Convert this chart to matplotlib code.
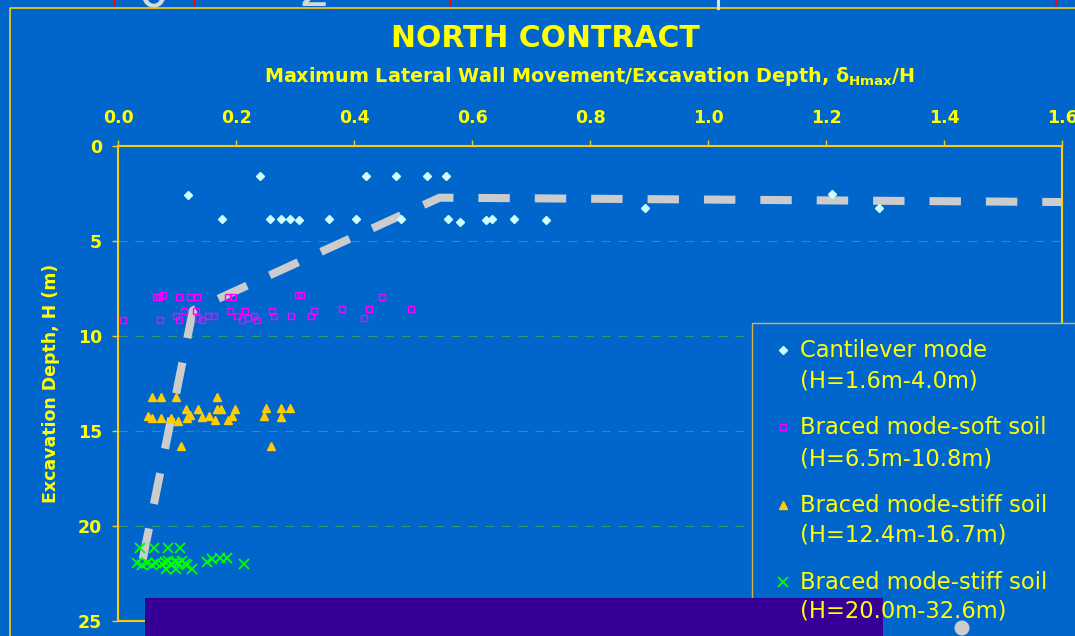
import numpy as np
import matplotlib

matplotlib.use("Agg")
import matplotlib.pyplot as plt
from matplotlib.lines import Line2D
from matplotlib.patches import Rectangle, Ellipse

# ---- data (x = delta_Hmax/H, h = excavation depth in m) ----
cant_x = [0.119, 0.240, 0.177, 0.257, 0.277, 0.292, 0.306, 0.357, 0.404, 0.420, 0.472, 0.524,
          0.556, 0.479, 0.559, 0.579, 0.624, 0.634, 0.671, 0.725, 0.894, 1.211, 1.289]
cant_h = [2.60, 1.60, 3.84, 3.84, 3.84, 3.84, 3.91, 3.84, 3.84, 1.60, 1.60, 1.60,
          1.60, 3.84, 3.84, 3.98, 3.91, 3.84, 3.84, 3.91, 3.26, 2.54, 3.26]

soft_x = [0.008, 0.064, 0.069, 0.077, 0.103, 0.122, 0.134, 0.186, 0.195, 0.305, 0.310, 0.448,
          0.072, 0.098, 0.103, 0.112, 0.132, 0.135, 0.143, 0.152, 0.163, 0.190, 0.201, 0.210,
          0.215, 0.220, 0.230, 0.236, 0.261, 0.264, 0.293, 0.327, 0.333, 0.379, 0.417, 0.425, 0.497]
soft_h = [9.17, 7.93, 7.93, 7.86, 7.93, 7.93, 7.93, 7.93, 7.93, 7.86, 7.86, 7.93,
          9.17, 8.93, 9.17, 8.67, 8.67, 9.07, 9.17, 8.93, 8.93, 8.67, 8.93, 9.17,
          8.67, 9.07, 8.93, 9.17, 8.67, 8.93, 8.93, 8.93, 8.67, 8.60, 9.07, 8.60, 8.60]

stiff_x = [0.057, 0.073, 0.098, 0.167, 0.050, 0.057, 0.073, 0.090, 0.102, 0.115, 0.117, 0.122,
           0.136, 0.142, 0.154, 0.164, 0.167, 0.174, 0.186, 0.194, 0.199, 0.107, 0.251, 0.248,
           0.277, 0.291, 0.277, 0.260]
stiff_h = [13.19, 13.19, 13.19, 13.19, 14.19, 14.33, 14.33, 14.33, 14.46, 13.86, 14.33, 14.16,
           13.86, 14.25, 14.19, 14.42, 13.86, 13.86, 14.42, 14.19, 13.86, 15.79, 13.81, 14.19,
           13.81, 13.81, 14.28, 15.79]

deep_x = [0.037, 0.061, 0.085, 0.105, 0.032, 0.040, 0.049, 0.057, 0.065, 0.074, 0.080, 0.085,
          0.091, 0.097, 0.102, 0.108, 0.113, 0.117, 0.150, 0.159, 0.173, 0.184, 0.214, 0.082,
          0.099, 0.125]
deep_h = [21.18, 21.18, 21.18, 21.18, 21.96, 22.05, 21.96, 22.05, 21.96, 22.00, 21.90, 21.85,
          22.00, 21.90, 21.95, 21.85, 22.00, 22.05, 21.88, 21.75, 21.70, 21.70, 22.00, 22.26,
          22.26, 22.28]

envelope_x = [0.042, 0.127, 0.545, 1.60]
envelope_h = [21.75, 8.65, 2.72, 2.95]

legend_lines = [
    ("Cantilever mode", "(H=1.6m-4.0m)"),
    ("Braced mode-soft soil", "(H=6.5m-10.8m)"),
    ("Braced mode-stiff soil", "(H=12.4m-16.7m)"),
    ("Braced mode-stiff soil", "(H=20.0m-32.6m)"),
]
x_ticks = [0.0, 0.2, 0.4, 0.6, 0.8, 1.0, 1.2, 1.4, 1.6]
y_ticks = [0, 5, 10, 15, 20, 25]

BLUE = "#0066CC"
YELLOW = "#FFFF00"
GOLD = "#FFCC00"

W, H = 1075, 636


def fx(x):
    return x / W


def fy(y):
    return 1 - y / H


fig = plt.figure(figsize=(W / 100, H / 100), dpi=100, facecolor=BLUE)
ax = fig.add_axes([fx(118), fy(621), (1062 - 118) / W, (621 - 146) / H], facecolor=BLUE)

styles = [
    dict(marker="D", ms=3.8, color="#CCFFFF", mec="#CCFFFF", mfc="#CCFFFF", ls="none"),
    dict(marker="s", ms=4.2, color="#FF00FF", mec="#FF00FF", mfc="none", mew=1.0, ls="none"),
    dict(marker="^", ms=6.0, color="#FFCC00", mec="#FFCC00", mfc="#FFCC00", ls="none"),
    dict(marker="x", ms=6.5, color="#00FF00", mec="#00FF00", mew=1.3, ls="none"),
]
series = [(cant_x, cant_h), (soft_x, soft_h), (stiff_x, stiff_h), (deep_x, deep_h)]

env, = ax.plot(envelope_x, envelope_h, color="#CCCCCC", lw=5.8, zorder=2,
               solid_capstyle="butt", dash_capstyle="butt")
env.set_dashes([3.9, 3.1])
for (xs, hs), st in zip(series, styles):
    ax.plot(xs, hs, zorder=3, **st)

ax.set_xlim(0, 1.6)
ax.set_ylim(25, 0)
ax.xaxis.tick_top()
ax.xaxis.set_label_position("top")
ax.set_xticks(x_ticks)
ax.set_xticklabels([f"{v:.1f}" for v in x_ticks])
ax.set_yticks(y_ticks)
ax.tick_params(axis="both", colors=GOLD, labelcolor=YELLOW, length=4.3, width=1,
               direction="out", labelsize=12.5)
ax.tick_params(axis="x", pad=9.5)
ax.tick_params(axis="y", pad=7.2)
for lab in ax.get_xticklabels() + ax.get_yticklabels():
    lab.set_fontweight("bold")
for sp in ax.spines.values():
    sp.set_color(GOLD)
    sp.set_linewidth(1.5)
ax.yaxis.grid(True, color="#339966", lw=0.8, ls=(0, (8, 7)))
ax.set_axisbelow(True)

ax.set_xlabel(r"Maximum Lateral Wall Movement/Excavation Depth, $\mathbf{\delta_{Hmax}}$/H",
              color=YELLOW, fontsize=13.8, fontweight="bold", labelpad=19)
ax.set_ylabel("Excavation Depth, H (m)", color=YELLOW, fontsize=12.5,
              fontweight="bold", labelpad=13)

fig.text(fx(545), fy(47), "NORTH CONTRACT", ha="center", va="baseline",
         color=YELLOW, fontsize=21.5, fontweight="bold")

# outer slide frame and remnants above it
fig.add_artist(Line2D([fx(10), fx(10), fx(1080)], [fy(640), fy(7.5), fy(7.5)],
                      color=GOLD, lw=1.2, transform=fig.transFigure))
for xr in [114, 194, 450, 1056]:
    fig.add_artist(Line2D([fx(xr), fx(xr)], [fy(0), fy(5)], color="#FF0000", lw=1.6,
                          transform=fig.transFigure))
fig.add_artist(Line2D([fx(718), fx(718)], [fy(0), fy(8)], color="#DDDDDD", lw=2.2,
                      transform=fig.transFigure))
fig.text(fx(154), fy(7), "0", ha="center", va="baseline", color="#D8D8D8", fontsize=36)
fig.text(fx(314), fy(5.5), "2", ha="center", va="baseline", color="#D8D8D8", fontsize=36)

# legend box
fig.add_artist(Rectangle((fx(752), fy(660)), (1100 - 752) / W, (660 - 323) / H,
                         transform=fig.transFigure, facecolor=BLUE, edgecolor="#D4B44A",
                         lw=1.0, zorder=5))
# purple bar at the bottom of the slide
fig.add_artist(Rectangle((fx(145), fy(640)), (883 - 145) / W, (640 - 598) / H,
                         transform=fig.transFigure, facecolor="#360096", edgecolor="none",
                         zorder=6))

line1_base = [357, 434, 512, 589]
line2_base = [388, 466, 542, 618]
marker_y = [350, 427, 505, 582]
for (l1, l2), b1, b2, my, st in zip(legend_lines, line1_base, line2_base, marker_y, styles):
    fig.text(fx(800), fy(b1), l1, ha="left", va="baseline", color=YELLOW, fontsize=16.3, zorder=7)
    fig.text(fx(800), fy(b2), l2, ha="left", va="baseline", color=YELLOW, fontsize=16.3, zorder=7)
    fig.add_artist(Line2D([fx(783)], [fy(my)], transform=fig.transFigure, zorder=7, **st))

fig.add_artist(Ellipse((fx(962), fy(628)), 15 / W, 15 / H, transform=fig.transFigure,
                       facecolor="#CCCCCC", edgecolor="none", zorder=8))

fig.savefig("out.png", dpi=100, facecolor=BLUE)
